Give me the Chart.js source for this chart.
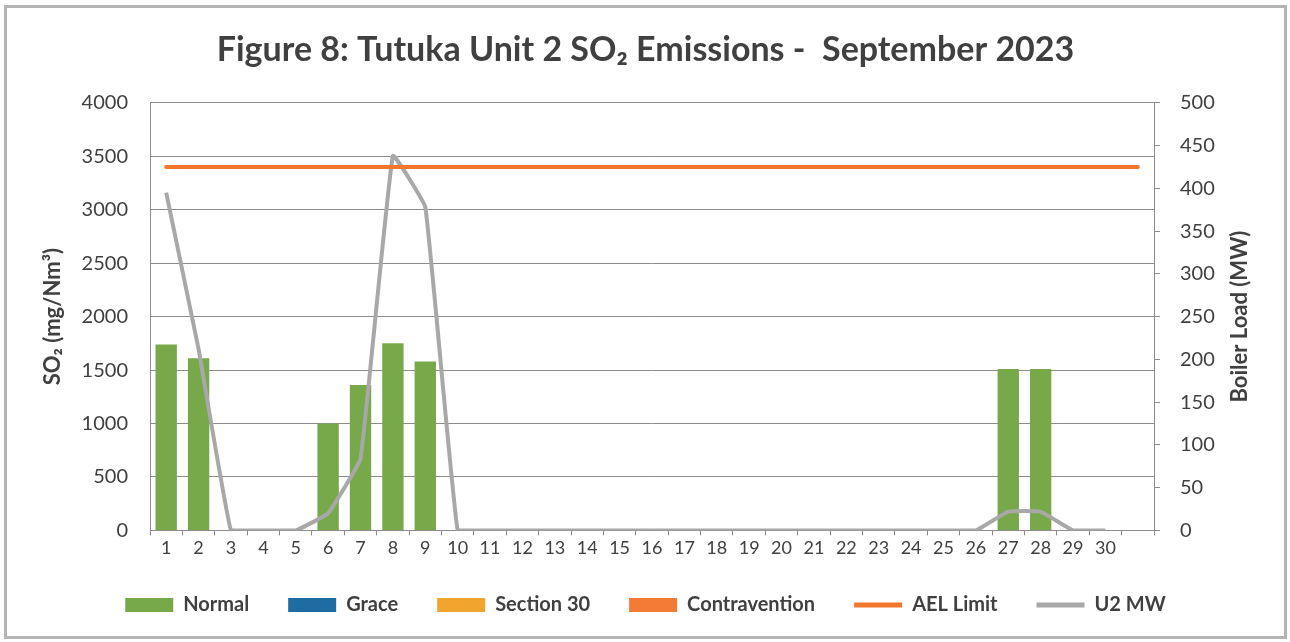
<!DOCTYPE html>
<html>
<head>
<meta charset="utf-8">
<script src="https://cdn.jsdelivr.net/npm/chart.js@4.4.1/dist/chart.umd.min.js"></script>
<style>
  html, body { margin: 0; padding: 0; background: #fff; }
  #wrap { position: relative; width: 1290px; height: 642px; }
  #frame { position: absolute; left: 4px; top: 5px; width: 1277px; height: 628px; border: 3px solid #b4b4b4; pointer-events: none; }
</style>
</head>
<body>
<div id="wrap">
  <canvas id="myChart" width="1290" height="642"></canvas>
  <div id="frame"></div>
</div>
<script>
// days of September, plus one empty slot at the end like the original
var days = ['1','2','3','4','5','6','7','8','9','10','11','12','13','14','15','16','17','18','19','20','21','22','23','24','25','26','27','28','29','30',''];
var normal = [1740,1610,0,0,0,1000,1360,1750,1580,0,0,0,0,0,0,0,0,0,0,0,0,0,0,0,0,0,1510,1510,0,0,null];
var grace = [];
var section30 = [];
var contravention = [];
var aelLimit = [3400,3400,3400,3400,3400,3400,3400,3400,3400,3400,3400,3400,3400,3400,3400,3400,3400,3400,3400,3400,3400,3400,3400,3400,3400,3400,3400,3400,3400,3400,3400];
var u2mw = [395,212,0,0,0,20,84,438,378,0,0,0,0,0,0,0,0,0,0,0,0,0,0,0,0,0,22,22,0,0,null];

var font = "Lato, 'Open Sans', sans-serif";
var textCol = '#404040';
var gridCol = '#8c8c8c';

// right axis title reads bottom-to-top in the original, so draw it by hand
var rightTitle = {
    id: 'rightTitle',
    afterDraw: function (chart) {
        var c = chart.ctx, a = chart.chartArea;
        c.save();
        c.translate(1240, (a.top + a.bottom) / 2);
        c.rotate(-Math.PI / 2);
        c.font = 'bold 22px ' + font;
        c.fillStyle = textCol;
        c.textAlign = 'center';
        c.textBaseline = 'middle';
        c.fillText('Boiler Load (MW)', 0, 0);
        c.restore();
    }
};

var ctx = document.getElementById('myChart');
var data = {
    labels: days,
    datasets: [
        { type: 'bar', label: 'Normal', data: normal, backgroundColor: '#77a94a', yAxisID: 'y', stack: 'so2', order: 3 },
        { type: 'bar', label: 'Grace', data: grace, backgroundColor: '#1f6ca3', yAxisID: 'y', stack: 'so2', order: 3 },
        { type: 'bar', label: 'Section 30', data: section30, backgroundColor: '#f0a52e', yAxisID: 'y', stack: 'so2', order: 3 },
        { type: 'bar', label: 'Contravention', data: contravention, backgroundColor: '#f47b36', yAxisID: 'y', stack: 'so2', order: 3 },
        { type: 'line', label: 'AEL Limit', data: aelLimit, borderColor: '#f2772b', backgroundColor: '#f2772b',
          borderWidth: 4, pointRadius: 0, borderCapStyle: 'round', yAxisID: 'y', stack: 'ael', order: 1 },
        { type: 'line', label: 'U2 MW', data: u2mw, borderColor: '#a8a8a8', backgroundColor: '#a8a8a8',
          borderWidth: 4, pointRadius: 0, lineTension: 0.08, yAxisID: 'y1', stack: 'mw', order: 2 }
    ]
};

var myChart = new Chart(ctx, {
    type: 'bar',
    data: data,
    plugins: [rightTitle],
    options: {
        responsive: false,
        animation: false,
        layout: { padding: { left: 36, right: 35, top: 14, bottom: 17 } },
        datasets: { bar: { categoryPercentage: 1, barPercentage: 0.66 } },
        plugins: {
            title: {
                display: true,
                text: 'Figure 8: Tutuka Unit 2 SO₂ Emissions -  September 2023',
                color: textCol,
                font: { family: font, size: 34, weight: 'bold' },
                padding: { top: 16, bottom: 32 }
            },
            legend: {
                position: 'bottom',
                labels: {
                    color: textCol,
                    font: { family: font, size: 20, weight: 'bold' },
                    usePointStyle: true,
                    pointStyleWidth: 48,
                    boxWidth: 48,
                    boxHeight: 14,
                    padding: 39,
                    generateLabels: function (chart) {
                        return chart.data.datasets.map(function (ds, i) {
                            return {
                                text: ds.label,
                                fillStyle: ds.backgroundColor,
                                strokeStyle: ds.type === 'line' ? ds.borderColor : ds.backgroundColor,
                                lineWidth: ds.type === 'line' ? 5 : 0,
                                pointStyle: ds.type === 'line' ? 'line' : 'rect',
                                fontColor: textCol,
                                datasetIndex: i
                            };
                        });
                    }
                }
            },
            tooltip: { enabled: false }
        },
        scales: {
            x: {
                stacked: true,
                offset: true,
                grid: { display: true, drawOnChartArea: false, drawTicks: true, tickLength: 5, color: gridCol },
                border: { display: true, color: gridCol },
                ticks: { color: textCol, font: { family: font, size: 18 }, maxRotation: 0, autoSkip: false, padding: 2 },
                afterFit: function (scale) { scale.height = scale.height - 5; }
            },
            y: {
                position: 'left',
                stacked: true,
                min: 0, max: 4000,
                ticks: { stepSize: 500, color: textCol, font: { family: font, size: 20 }, padding: 22,
                         callback: function (v) { return String(v); } },
                grid: { color: gridCol, drawTicks: false },
                border: { display: true, color: gridCol },
                title: { display: true, text: 'SO₂ (mg/Nm³)', color: textCol, font: { family: font, size: 22, weight: 'bold' }, padding: 4 },
                afterFit: function (scale) { scale.width = 114; }
            },
            y1: {
                position: 'right',
                min: 0, max: 500,
                ticks: { stepSize: 50, color: textCol, font: { family: font, size: 20 }, padding: 20 },
                grid: { drawOnChartArea: false, drawTicks: true, tickLength: 6, color: gridCol },
                border: { display: true, color: gridCol },
                afterFit: function (scale) { scale.width = 101; }
            }
        }
    }
});
</script>
</body>
</html>
